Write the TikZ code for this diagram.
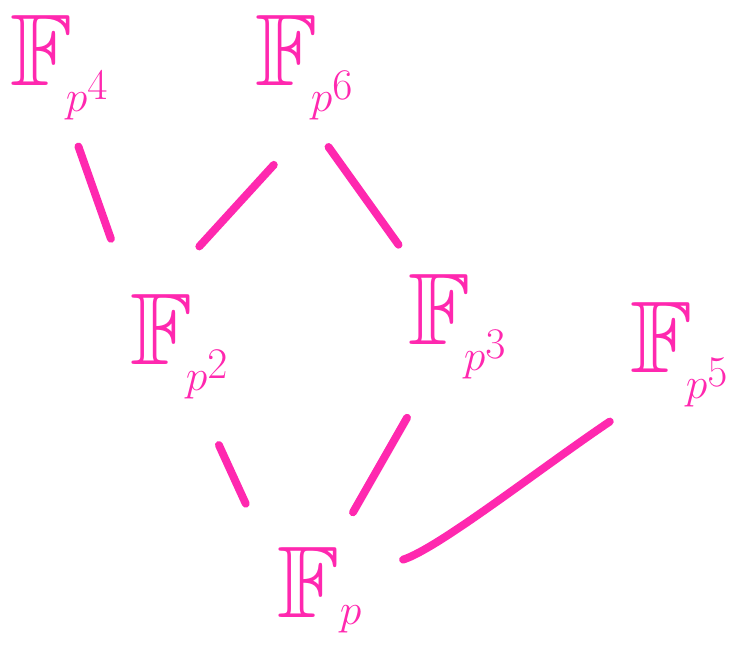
\documentclass[tikz,border=0pt]{standalone}
\usepackage{amsmath,amssymb}
\usepackage{tikz}
\usetikzlibrary{positioning}
\usepackage{xcolor}
\definecolor{pinkink}{RGB}{255,40,175}

\begin{document}
\begin{tikzpicture}[x=0.02cm,y=-0.02cm,
  field/.style={inner sep=0pt,text=pinkink,font=\fontsize{58}{64}\selectfont},
  edge/.style={draw=pinkink,line width=4.5pt,line cap=round}]
\useasboundingbox (0,0) rectangle (736,655);
\node[field] (p4) at (60,68) {$\mathbb{F}_{\!p^4}$};
\node[field] (p6) at (305,68) {$\mathbb{F}_{\!p^6}$};
\node[field] (p2) at (180,347) {$\mathbb{F}_{\!p^2}$};
\node[field] (p3) at (458,327) {$\mathbb{F}_{\!p^3}$};
\node[field] (p5) at (680,355) {$\mathbb{F}_{\!p^5}$};
\node[field] (p1) at (320,590) {$\mathbb{F}_{p}$};
\draw[edge,shorten <=0.55cm,shorten >=1.18cm] (p4.-80) -- (p2.north west);
\draw[edge,shorten <=1.2cm,shorten >=1.3cm] (p6.-80) -- (p2.115);
\draw[edge,shorten <=0.65cm,shorten >=0.73cm] (p6.-85) -- (p3.126);
\draw[edge,shorten <=1.0cm,shorten >=1.52cm] (p2.-71) -- (p1.158);
\draw[edge,shorten <=0.88cm,shorten >=0.8cm] (p3.-119) -- (p1.73);
\draw[edge,shorten <=0.5cm,shorten >=0.85cm] (p5.south west) .. controls +(214:2.2cm) and +(18:1.6cm) .. (p1.22);
\end{tikzpicture}
\end{document}
